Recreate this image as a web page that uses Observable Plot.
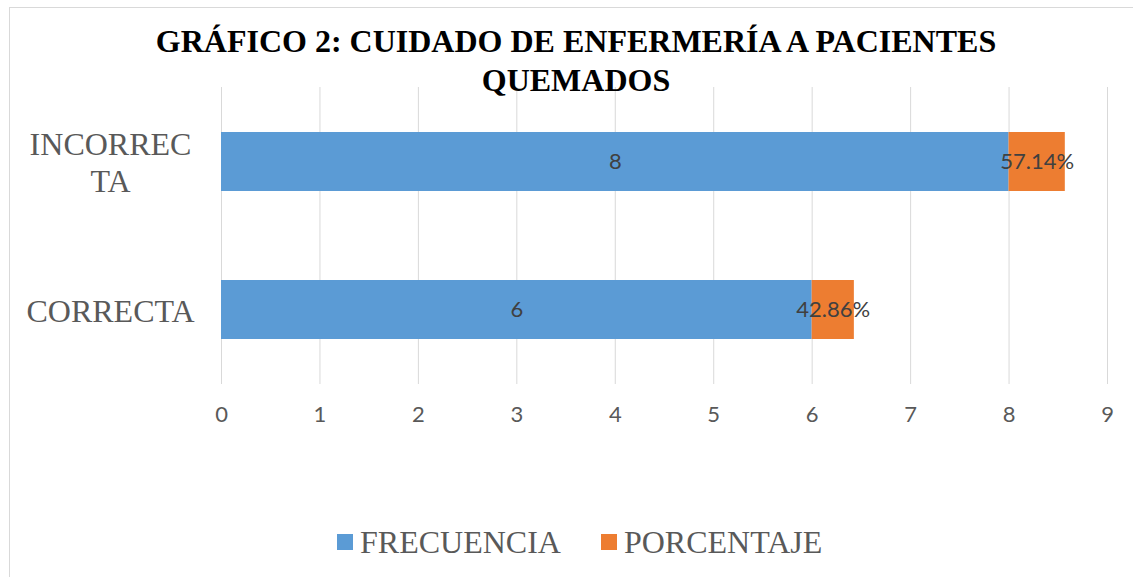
<!DOCTYPE html>
<html>
<head>
<meta charset="utf-8">
<script src="https://cdn.jsdelivr.net/npm/d3@7"></script>
<script src="https://cdn.jsdelivr.net/npm/@observablehq/plot@0.6"></script>
<style>
  body { margin: 0; background: #fff; }
  #wrap { position: relative; width: 1133px; height: 577px; overflow: hidden; background: #fff; }
  #title { position: relative; z-index: 2; height: 87px; font: bold 32px "Liberation Serif", "Times New Roman", serif; line-height: 39px; text-align: center; color: #000; }
  #title div { width: 900px; margin-left: 126px; padding-top: 22px; }
  #legend { display: flex; align-items: center; padding-left: 337px; padding-top: 82px; font: 32px "Liberation Serif", "Times New Roman", serif; line-height: 32px; color: #595959; }
  #legend .sw { display: inline-block; width: 16px; height: 16px; margin-right: 7px; }
  #legend .item { display: flex; align-items: center; margin-right: 40px; }
  #frame { position: absolute; left: 9px; top: 7px; width: 1200px; height: 1000px; border: 1.5px solid #d9d9d9; pointer-events: none; z-index: 3; }
</style>
</head>
<body>
<div id="wrap">
  <div id="title"><div>GRÁFICO 2: CUIDADO DE ENFERMERÍA A PACIENTES QUEMADOS</div></div>
  <div id="chart"></div>
  <div id="legend"></div>
  <div id="frame"></div>
</div>
<script>
const categories = ["INCORRECTA", "CORRECTA"];
const categoryLabels = ["INCORREC\nTA", "CORRECTA"];
const series = ["FRECUENCIA", "PORCENTAJE"];
const frecuencia = [8, 6];
const porcentaje = [0.5714, 0.4286];
const xTicks = [0, 1, 2, 3, 4, 5, 6, 7, 8, 9];
const colors = ["#5B9BD5", "#ED7D31"];

const data = categories.flatMap((c, i) => [
  {cat: c, series: series[0], value: frecuencia[i], label: String(frecuencia[i])},
  {cat: c, series: series[1], value: porcentaje[i], label: (porcentaje[i] * 100).toFixed(2) + "%"}
]);

const chart = Plot.plot({
  width: 1133,
  height: 357,
  marginLeft: 221,
  marginRight: 26,
  marginTop: 0,
  marginBottom: 60,
  style: {background: "transparent", overflow: "visible", color: "#595959"},
  x: {domain: [0, 9]},
  y: {domain: categories, paddingInner: 0.6, paddingOuter: 0.3},
  color: {domain: series, range: colors},
  marks: [
    Plot.gridX(xTicks, {stroke: "#d9d9d9", strokeOpacity: 1, strokeWidth: 1}),
    Plot.barX(data, {x: "value", y: "cat", fill: "series"}),
    Plot.text(data, Plot.stackX({x: "value", y: "cat", z: "series", text: "label", fill: "#404040", fontSize: 22, fontFamily: "Lato"})),
    Plot.axisX(xTicks, {tickSize: 0, tickPadding: 22, fontSize: 22, fontFamily: "Lato", fill: "#595959", label: null}),
    Plot.axisY({tickSize: 0, tickPadding: 111, textAnchor: "middle", tickFormat: d => categoryLabels[categories.indexOf(d)], fontSize: 32, fontFamily: "Liberation Serif", fill: "#595959", lineHeight: 1.16, label: null})
  ]
});
document.getElementById("chart").appendChild(chart);

const legend = document.getElementById("legend");
series.forEach((s, i) => {
  const item = document.createElement("span");
  item.className = "item";
  const sw = document.createElement("span");
  sw.className = "sw";
  sw.style.background = colors[i];
  item.appendChild(sw);
  item.appendChild(document.createTextNode(s));
  legend.appendChild(item);
});
</script>
</body>
</html>
